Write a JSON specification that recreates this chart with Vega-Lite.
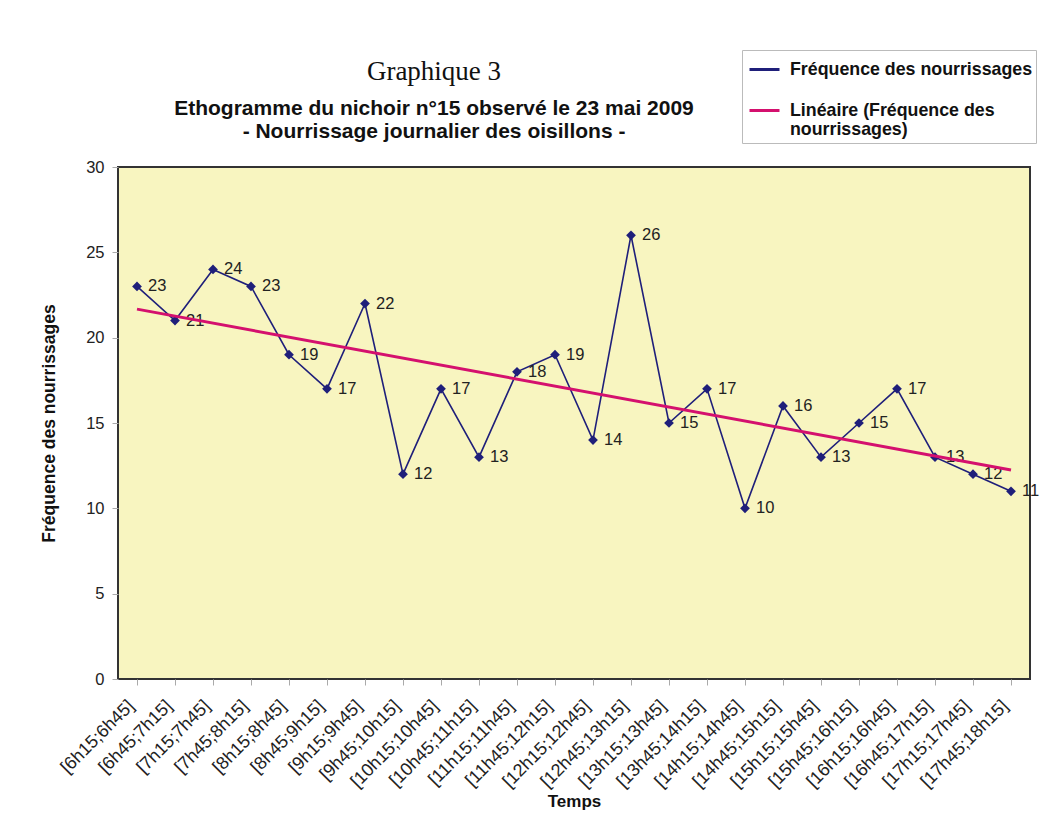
{
  "$schema": "https://vega.github.io/schema/vega-lite/v6.json",
  "autosize": "none",
  "width": 912,
  "height": 512,
  "padding": {"left": 118, "top": 167, "right": 29, "bottom": 157},
  "background": "white",
  "config": {
    "font": "Liberation Sans",
    "view": {"fill": "#F8F5C0", "stroke": "#333333", "strokeWidth": 2}
  },
  "title": {
    "text": "Graphique 3",
    "subtitle": ["Ethogramme du nichoir n°15 observé le 23 mai 2009", "- Nourrissage journalier des oisillons -"],
    "font": "Liberation Serif",
    "fontSize": 27,
    "fontWeight": "normal",
    "color": "#111111",
    "subtitleFont": "Liberation Sans",
    "subtitleFontSize": 21,
    "subtitleFontWeight": "bold",
    "subtitleColor": "#111111",
    "subtitlePadding": 12,
    "subtitleLineHeight": 23,
    "anchor": "middle",
    "dx": -140,
    "offset": -93
  },
  "datasets": {
    "obs": [
      {"idx": 1, "t": "[6h15;6h45]", "v": 23},
      {"idx": 2, "t": "[6h45;7h15]", "v": 21},
      {"idx": 3, "t": "[7h15;7h45]", "v": 24},
      {"idx": 4, "t": "[7h45;8h15]", "v": 23},
      {"idx": 5, "t": "[8h15;8h45]", "v": 19},
      {"idx": 6, "t": "[8h45;9h15]", "v": 17},
      {"idx": 7, "t": "[9h15;9h45]", "v": 22},
      {"idx": 8, "t": "[9h45;10h15]", "v": 12},
      {"idx": 9, "t": "[10h15;10h45]", "v": 17},
      {"idx": 10, "t": "[10h45;11h15]", "v": 13},
      {"idx": 11, "t": "[11h15;11h45]", "v": 18},
      {"idx": 12, "t": "[11h45;12h15]", "v": 19},
      {"idx": 13, "t": "[12h15;12h45]", "v": 14},
      {"idx": 14, "t": "[12h45;13h15]", "v": 26},
      {"idx": 15, "t": "[13h15;13h45]", "v": 15},
      {"idx": 16, "t": "[13h45;14h15]", "v": 17},
      {"idx": 17, "t": "[14h15;14h45]", "v": 10},
      {"idx": 18, "t": "[14h45;15h15]", "v": 16},
      {"idx": 19, "t": "[15h15;15h45]", "v": 13},
      {"idx": 20, "t": "[15h45;16h15]", "v": 15},
      {"idx": 21, "t": "[16h15;16h45]", "v": 17},
      {"idx": 22, "t": "[16h45;17h15]", "v": 13},
      {"idx": 23, "t": "[17h15;17h45]", "v": 12},
      {"idx": 24, "t": "[17h45;18h15]", "v": 11}
    ]
  },
  "data": {"name": "obs"},
  "encoding": {
    "y": {
      "field": "v",
      "type": "quantitative",
      "scale": {"domain": [0, 30]},
      "axis": {
        "values": [0, 5, 10, 15, 20, 25, 30],
        "grid": false,
        "domain": false,
        "tickColor": "#aaaaaa",
        "tickSize": 6,
        "labelFontSize": 16.5,
        "labelColor": "#222222",
        "labelPadding": 8,
        "title": "Fréquence des nourrissages",
        "titleFontSize": 17.5,
        "titleFontWeight": "bold",
        "titleColor": "#111111",
        "titlePadding": 27
      }
    }
  },
  "layer": [
    {
      "mark": {"type": "line", "strokeWidth": 1.6},
      "encoding": {
        "x": {
          "field": "t",
          "type": "ordinal",
          "sort": {"field": "idx"},
          "scale": {"paddingInner": 0, "paddingOuter": 0},
          "axis": {
            "orient": "bottom",
            "labelAngle": -45,
            "labelAlign": "right",
            "labelBaseline": "middle",
            "labelFontSize": 18,
            "labelColor": "#222222",
            "labelPadding": 24,
            "labelOffset": -6,
            "ticks": false,
            "domain": false,
            "title": "Temps",
            "titleFontSize": 17,
            "titleFontWeight": "bold",
            "titleColor": "#111111",
            "titlePadding": 3
          }
        },
        "color": {
          "datum": "Fréquence des nourrissages",
          "type": "nominal",
          "scale": {
            "domain": ["Fréquence des nourrissages", "Linéaire (Fréquence des nourrissages)"],
            "range": ["#1F1F7A", "#D4106E"]
          },
          "legend": {
            "title": null,
            "orient": "none",
            "legendX": 624,
            "legendY": -117,
            "symbolType": "stroke",
            "symbolStrokeWidth": 3,
            "symbolSize": 900,
            "symbolOffset": 3,
            "labelFontSize": 17.8,
            "labelFontWeight": "bold",
            "labelColor": "#111111",
            "labelLimit": 400,
            "labelOffset": 9,
            "rowPadding": 15,
            "labelExpr": "datum.label == 'Fréquence des nourrissages' ? datum.label : ['Linéaire (Fréquence des', 'nourrissages)']",
            "strokeColor": "#bbbbbb",
            "fillColor": "white",
            "padding": 3
          }
        }
      }
    },
    {
      "mark": {"type": "point", "shape": "diamond", "filled": true, "size": 95, "color": "#1F1F7A", "opacity": 1},
      "encoding": {
        "x": {
          "field": "t",
          "type": "ordinal",
          "sort": {"field": "idx"},
          "scale": {"paddingInner": 0, "paddingOuter": 0},
          "axis": {
            "orient": "bottom",
            "bandPosition": 0,
            "labels": false,
            "ticks": true,
            "tickColor": "#aaaaaa",
            "tickSize": 6,
            "domain": false,
            "title": null
          }
        }
      }
    },
    {
      "mark": {"type": "text", "align": "left", "baseline": "middle", "dx": 11, "fontSize": 16.5, "color": "#222222"},
      "encoding": {
        "x": {"field": "t", "type": "ordinal", "sort": {"field": "idx"}, "scale": {"paddingInner": 0, "paddingOuter": 0}, "axis": null},
        "text": {"field": "v", "type": "quantitative"}
      }
    },
    {
      "transform": [{"regression": "v", "on": "idx", "extent": [1, 24]}],
      "mark": {"type": "line", "strokeWidth": 3},
      "encoding": {
        "x": {"field": "idx", "type": "quantitative", "scale": {"domain": [0.5, 24.5]}, "axis": null},
        "color": {"datum": "Linéaire (Fréquence des nourrissages)", "type": "nominal"}
      }
    }
  ],
  "resolve": {"scale": {"x": "independent"}, "axis": {"x": "independent"}}
}
